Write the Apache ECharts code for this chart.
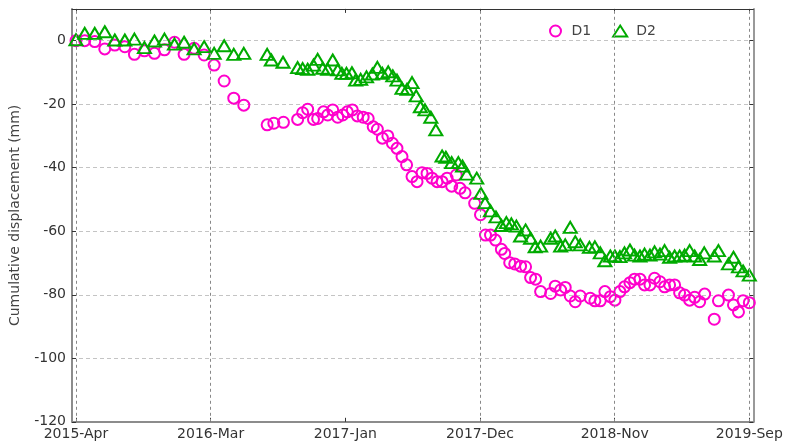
<!DOCTYPE html>
<html>
<head>
<meta charset="utf-8">
<script src="https://cdn.jsdelivr.net/npm/echarts@6/dist/echarts.min.js"></script>
<style>html,body{margin:0;padding:0;background:#fff}#c{width:795px;height:448px}</style>
</head>
<body>
<div id="c"></div>
<script>
// X positions are days since the first acquisition (2015-Apr); values in mm.
const tickDays = [0, 322.6, 645.2, 967.8, 1290.4, 1613];
const tickLabels = ['2015-Apr', '2016-Mar', '2017-Jan', '2017-Dec', '2018-Nov', '2019-Sep'];
const gridDays = [0, 322.6, 967.8, 1290.4, 1613];
const yTicks = [0, -20, -40, -60, -80, -100, -120];

const d1Days = [0,21,45,69,93,117,140,164,188,212,236,259,283,307,331,355,378,402,
  458,474,497,531,543,555,569,579,593,603,615,627,639,650,662,674,688,700,712,722,734,747,
  758,769,781,792,805,817,829,841,853,865,877,889,900,911,920,932,955,969,981,993,1005,
  1019,1027,1039,1051,1065,1077,1089,1101,1113,1137,1148,1161,1172,1184,1196,1208,1232,
  1243,1256,1267,1280,1291,1303,1314,1327,1338,1351,1362,1375,1386,1399,1410,1422,1434,
  1446,1458,1470,1482,1494,1506,1529,1539,1563,1575,1587,1598,1613];
const d1Values = [0,0,-0.3,-2.6,-1.4,-1.9,-4.3,-3.2,-4,-2.9,-0.5,-4.3,-2.4,-4.5,-7.7,-12.7,-18.1,-20.3,
  -26.5,-26,-25.7,-24.8,-22.7,-21.6,-24.8,-24.5,-22.4,-23.4,-21.8,-24.1,-23.4,-22.4,-21.8,-23.7,-24.1,-24.5,-27.1,-27.9,-30.7,-30,
  -32.3,-33.9,-36.5,-39.1,-42.8,-44.4,-41.6,-41.8,-43.3,-44.4,-44.4,-43.3,-45.8,-42.3,-46.5,-47.9,-51.2,-54.8,-61.2,-61.2,-62.8,
  -65.7,-67,-69.9,-70.3,-71,-71.2,-74.6,-75.1,-79,-79.6,-77.3,-78.5,-77.7,-80.4,-82.2,-80.4,-81.1,
  -81.9,-81.9,-79,-80.6,-81.7,-79,-77.5,-76.2,-75.1,-75.1,-76.9,-76.9,-74.8,-75.9,-77.5,-76.9,-76.9,
  -79.4,-80.1,-81.7,-80.8,-82.2,-79.8,-87.7,-81.9,-80.1,-83.2,-85.4,-81.9,-82.5];

const d2Days = [0,21,45,69,93,117,140,164,188,212,236,259,283,307,331,355,378,402,
  458,468,496,531,543,555,569,579,591,603,615,627,637,648,661,670,682,696,710,722,734,748,
  759,769,781,793,805,815,825,836,850,862,877,886,900,916,926,936,960,970,980,993,1006,
  1019,1031,1043,1055,1065,1077,1089,1100,1113,1137,1148,1161,1172,1184,1196,1208,1230,
  1243,1256,1267,1280,1291,1303,1314,1327,1338,1351,1362,1375,1386,1399,1410,1422,1434,
  1446,1458,1470,1482,1494,1505,1529,1539,1563,1575,1587,1598,1613];
const d2Values = [0.3,2.3,2.3,2.8,0.2,0.2,0.5,-2.2,-0.1,0.5,-1.1,-0.5,-2.6,-1.9,-4,-1.6,-4.3,-4,
  -4.3,-6.1,-6.8,-8.5,-8.8,-9,-7.7,-5.9,-8.7,-9,-6.1,-9.2,-10.3,-10.3,-10.1,-12.4,-12.2,-11.4,-10.5,-8.4,-10.3,-9.8,
  -11.1,-12.4,-15,-15.3,-13.2,-17.4,-20.8,-21.8,-24.1,-28.1,-36.3,-36.7,-38.4,-38.4,-39.5,-42,-43.3,-48.1,-51,-53.6,-55.5,
  -58.2,-57.3,-57.7,-58.4,-61.5,-59.6,-62.2,-64.9,-64.7,-62.2,-61.5,-64.7,-64.3,-58.8,-63.3,-64.3,-65.1,
  -64.9,-66.8,-69.3,-67.8,-67.8,-68,-66.8,-65.9,-67.5,-67.8,-67.2,-67.5,-66.5,-67.2,-66.1,-68.2,-67.8,
  -67.8,-67.5,-66.1,-67.8,-68.9,-66.8,-67.8,-66.1,-70.3,-68.2,-71.2,-72.5,-73.8];

const seriesNames = ['D1', 'D2'];
const colors = ['#ff00cc', '#00aa00'];

const FONT = 'DejaVu Sans';
const chart = echarts.init(document.getElementById('c'), null, {renderer: 'canvas'});

function zipXY(xs, ys) { return xs.map((x, i) => [x, ys[i]]); }

const xMin = -9.5, xMax = 1622.5;

const option = {
  animation: false,
  backgroundColor: '#fff',
  grid: {left: 67.7, right: 41.7, top: 8.9, bottom: 26.2, containLabel: false},
  legend: {
    left: 544, top: 19,
    itemWidth: 22, itemHeight: 11, itemGap: 21,
    textStyle: {fontFamily: FONT, fontSize: 14, color: '#444'},
    data: [
      {name: seriesNames[0], icon: 'circle'},
      {name: seriesNames[1], icon: 'path://M7 0L14 11L0 11Z'}
    ]
  },
  xAxis: [
    {
      type: 'value', position: 'bottom', min: xMin, max: xMax,
      axisLine: {show: true, onZero: false, lineStyle: {color: '#8c8c8c', width: 2}},
      axisTick: {show: true, inside: true, length: 4, customValues: tickDays, lineStyle: {color: '#333', width: 1}},
      axisLabel: {
        show: true, customValues: tickDays, margin: 6,
        fontFamily: FONT, fontSize: 14, color: '#333',
        formatter: function (v) {
          for (let i = 0; i < tickDays.length; i++) if (Math.abs(tickDays[i] - v) < 0.5) return tickLabels[i];
          return '';
        }
      },
      splitLine: {show: false}
    },
    {
      type: 'value', position: 'top', min: xMin, max: xMax,
      axisLine: {show: true, onZero: false, lineStyle: {color: '#333', width: 1}},
      axisTick: {show: true, inside: true, length: 4, customValues: tickDays, lineStyle: {color: '#333', width: 1}},
      axisLabel: {show: false},
      splitLine: {show: false}
    }
  ],
  yAxis: [
    {
      type: 'value', position: 'left', min: -120, max: 10, interval: 20,
      name: 'Cumulative displacement (mm)', nameLocation: 'middle', nameGap: 50,
      nameTextStyle: {fontFamily: FONT, fontSize: 14, color: '#444'},
      axisLine: {show: true, onZero: false, lineStyle: {color: '#8c8c8c', width: 2}},
      axisTick: {show: true, inside: true, length: 4, lineStyle: {color: '#333', width: 1}},
      axisLabel: {
        show: true, margin: 6, showMaxLabel: false,
        fontFamily: FONT, fontSize: 14, color: '#333',
        formatter: function (v) { return yTicks.indexOf(v) >= 0 ? String(v) : ''; }
      },
      splitLine: {show: true, lineStyle: {color: '#c4c4c4', width: 1, type: [4, 3]}}
    },
    {
      type: 'value', position: 'right', min: -120, max: 10, interval: 20,
      axisLine: {show: true, onZero: false, lineStyle: {color: '#999', width: 2}},
      axisTick: {show: true, inside: true, length: 4, lineStyle: {color: '#333', width: 1}},
      axisLabel: {show: false},
      splitLine: {show: false}
    }
  ],
  series: [
    {
      name: seriesNames[0], type: 'scatter', xAxisIndex: 0, yAxisIndex: 0,
      symbol: 'circle', symbolSize: 11,
      itemStyle: {color: 'rgba(255,255,255,0)', borderColor: colors[0], borderWidth: 2, opacity: 1},
      data: zipXY(d1Days, d1Values),
      z: 3,
      markLine: {
        silent: true, symbol: ['none', 'none'], label: {show: false},
        lineStyle: {color: '#888', width: 1, type: [3, 3]},
        data: gridDays.map(d => ({xAxis: d}))
      }
    },
    {
      name: seriesNames[1], type: 'scatter', xAxisIndex: 0, yAxisIndex: 0,
      symbol: 'triangle', symbolSize: [13, 11],
      itemStyle: {color: 'rgba(255,255,255,0)', borderColor: colors[1], borderWidth: 2, opacity: 1},
      data: zipXY(d2Days, d2Values),
      z: 4
    }
  ]
};
chart.setOption(option);
</script>
</body>
</html>
